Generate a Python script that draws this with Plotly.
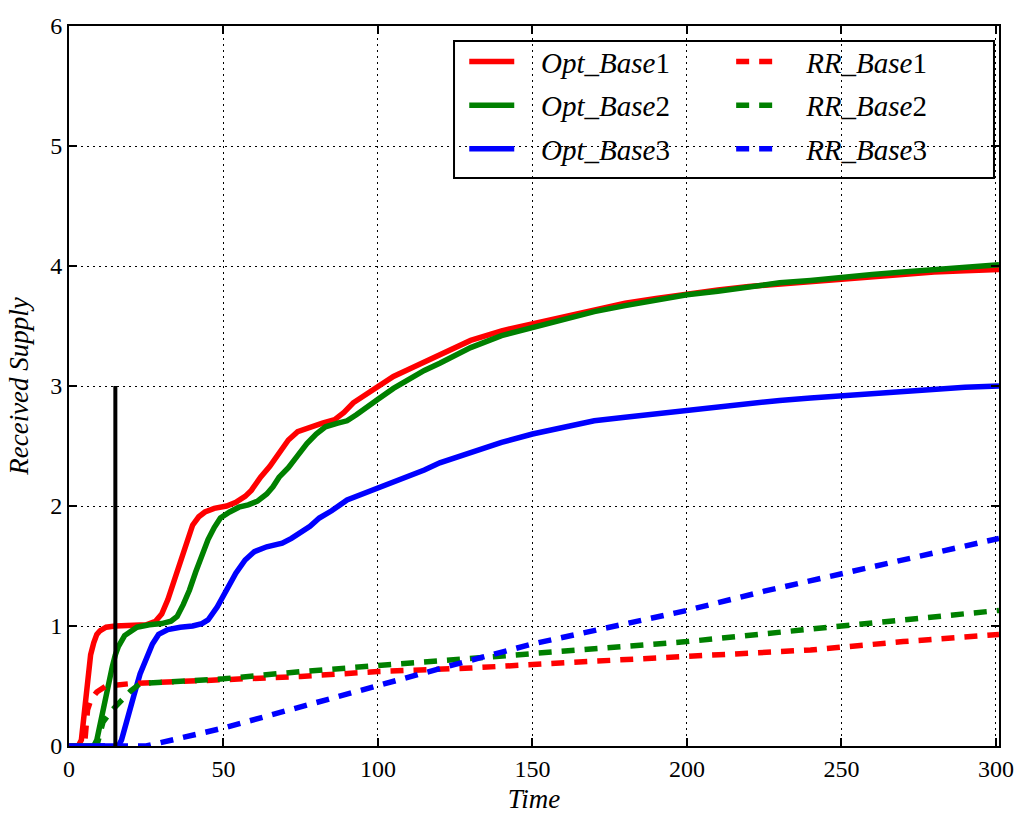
import plotly.graph_objects as go

# ---------------- data ----------------
opt1_x = [0, 3, 4, 5, 6, 7, 8, 9, 10, 12, 15, 20, 25, 28, 30, 32, 34, 36, 38, 40, 42, 44, 47, 51, 54, 57, 59, 62,
          65, 68, 71, 74, 78, 82, 86, 89, 92, 96, 100, 105, 110, 115, 120, 125, 130, 140, 150, 160, 170, 180,
          190, 200, 210, 220, 230, 240, 250, 260, 270, 280, 290, 301]
opt1_y = [0, 0, 0.05, 0.3, 0.6, 0.76, 0.86, 0.93, 0.96, 0.99, 1.0, 1.0, 1.01, 1.04, 1.1, 1.22, 1.38, 1.55, 1.7,
          1.84, 1.91, 1.95, 1.98, 2.0, 2.03, 2.08, 2.13, 2.24, 2.33, 2.44, 2.55, 2.62, 2.66, 2.69, 2.72, 2.78,
          2.86, 2.93, 3.0, 3.08, 3.14, 3.2, 3.26, 3.33, 3.38, 3.46, 3.52, 3.58, 3.63, 3.69, 3.73, 3.77, 3.8,
          3.83, 3.85, 3.87, 3.9, 3.92, 3.94, 3.95, 3.96, 3.97]

opt2_x = [0, 8, 9, 10, 11, 12, 13, 14, 15, 16, 18, 20, 22, 26, 30, 33, 35, 37, 39, 41, 43, 45, 47, 49, 52, 55,
          58, 61, 64, 66, 68, 71, 74, 77, 80, 83, 87, 90, 93, 97, 100, 105, 110, 115, 120, 125, 130, 140, 150,
          160, 170, 180, 190, 200, 210, 220, 230, 240, 250, 260, 270, 280, 290, 301]
opt2_y = [0, 0, 0.05, 0.18, 0.3, 0.42, 0.53, 0.66, 0.76, 0.83, 0.92, 0.96, 0.99, 1.01, 1.02, 1.04, 1.08, 1.18,
          1.3, 1.45, 1.6, 1.72, 1.82, 1.9, 1.95, 1.99, 2.01, 2.04, 2.1, 2.16, 2.24, 2.32, 2.42, 2.52, 2.6, 2.66,
          2.69, 2.71, 2.76, 2.84, 2.89, 2.98, 3.06, 3.13, 3.19, 3.26, 3.32, 3.42, 3.49, 3.56, 3.62, 3.67, 3.72,
          3.76, 3.79, 3.83, 3.86, 3.88, 3.91, 3.93, 3.95, 3.97, 3.99, 4.01]

opt3_x = [0, 16, 17, 19, 21, 23, 25, 27, 29, 32, 36, 40, 43, 45, 48, 51, 54, 57, 60, 64, 69, 72, 75, 78, 81, 85,
          90, 95, 100, 105, 110, 115, 120, 130, 140, 150, 160, 170, 180, 190, 200, 210, 220, 230, 240, 250, 260,
          270, 280, 290, 301]
opt3_y = [0, 0, 0.05, 0.22, 0.42, 0.6, 0.74, 0.85, 0.93, 0.97, 0.99, 1.0, 1.02, 1.05, 1.16, 1.3, 1.44, 1.55,
          1.62, 1.66, 1.69, 1.73, 1.78, 1.83, 1.9, 1.96, 2.05, 2.1, 2.15, 2.19, 2.24, 2.3, 2.36, 2.45, 2.53,
          2.6, 2.66, 2.71, 2.74, 2.77, 2.8, 2.83, 2.85, 2.88, 2.9, 2.92, 2.94, 2.96, 2.97, 2.99, 3.0]

rr1_x = [0, 5, 6, 7, 9, 12, 20, 50, 75, 100, 130, 165, 200, 240, 270, 301]
rr1_y = [0, 0, 0.3, 0.38, 0.45, 0.5, 0.52, 0.55, 0.58, 0.62, 0.65, 0.7, 0.75, 0.8, 0.87, 0.93]

rr2_x = [0, 9, 11, 14, 17, 20, 23, 30, 50, 75, 100, 150, 200, 250, 301]
rr2_y = [0, 0, 0.2, 0.3, 0.38, 0.46, 0.52, 0.53, 0.56, 0.62, 0.67, 0.76, 0.87, 1.0, 1.13]

rr3_x = [0, 25, 50, 75, 100, 125, 150, 175, 200, 225, 250, 275, 301]
rr3_y = [0, 0, 0.15, 0.33, 0.5, 0.68, 0.85, 0.99, 1.13, 1.29, 1.44, 1.58, 1.73]

vline_x = [15, 15]
vline_y = [0, 3]

x_ticks = [0, 50, 100, 150, 200, 250, 300]
y_ticks = [0, 1, 2, 3, 4, 5, 6]

FONT = "Liberation Serif"
LW = 5.5
DASH = "13px,10px"
SP3 = "&nbsp;" * 3
SP4 = "&nbsp;" * 4

fig = go.Figure()

series = [
    (opt1_x, opt1_y, SP3 + "<i>Opt_Base</i>1", "#ff0000", "solid", "legend", "g1"),
    (opt2_x, opt2_y, SP3 + "<i>Opt_Base</i>2", "#008000", "solid", "legend", "g2"),
    (opt3_x, opt3_y, SP3 + "<i>Opt_Base</i>3", "#0000ff", "solid", "legend", "g3"),
    (rr1_x, rr1_y, SP4 + "<i>RR_Base</i>1", "#ff0000", DASH, "legend2", "g4"),
    (rr2_x, rr2_y, SP4 + "<i>RR_Base</i>2", "#008000", DASH, "legend2", "g5"),
    (rr3_x, rr3_y, SP4 + "<i>RR_Base</i>3", "#0000ff", DASH, "legend2", "g6"),
]
for xs, ys, name, color, dash, lg, grp in series:
    fig.add_trace(go.Scatter(x=xs, y=ys, mode="lines", name=name, legend=lg, legendgroup=grp,
                             line=dict(color=color, width=LW, dash=dash)))

fig.add_trace(go.Scatter(x=vline_x, y=vline_y, mode="lines", showlegend=False,
                         line=dict(color="black", width=4)))

axis_common = dict(
    showline=True, linecolor="black", linewidth=2, mirror="allticks",
    ticks="inside", ticklen=8, tickwidth=1.5, tickcolor="black",
    showgrid=True, gridcolor="black", gridwidth=1, griddash="2px,4px",
    zeroline=False,
    tickfont=dict(family=FONT, size=24, color="black"),
)

fig.update_xaxes(range=[0, 301], tickvals=x_ticks, ticktext=[str(v) for v in x_ticks],
                 title=dict(text="<i>Time</i>", font=dict(family=FONT, size=27, color="black"), standoff=8),
                 **axis_common)
fig.update_yaxes(range=[0, 6], tickvals=y_ticks, ticktext=[str(v) for v in y_ticks],
                 title=dict(text="<i>Received Supply</i>", font=dict(family=FONT, size=27, color="black"), standoff=14),
                 **axis_common)

legend_common = dict(
    font=dict(family=FONT, size=29, color="black"),
    bgcolor="rgba(0,0,0,0)", borderwidth=0, orientation="v",
    xanchor="left", yanchor="top", tracegroupgap=3,
)
fig.update_layout(
    width=1030, height=827,
    margin=dict(l=69, r=31, t=26, b=81),
    paper_bgcolor="white", plot_bgcolor="white",
    legend=dict(x=0.425, y=0.986, itemwidth=45, **legend_common),
    legend2=dict(x=0.712, y=0.986, itemwidth=36, **legend_common),
    shapes=[dict(type="rect", xref="paper", yref="paper", x0=0.414, x1=0.9946, y0=0.789, y1=0.979,
                 line=dict(color="black", width=2), fillcolor="rgba(0,0,0,0)", layer="above")],
    showlegend=True,
)

fig.write_html("out.html")
